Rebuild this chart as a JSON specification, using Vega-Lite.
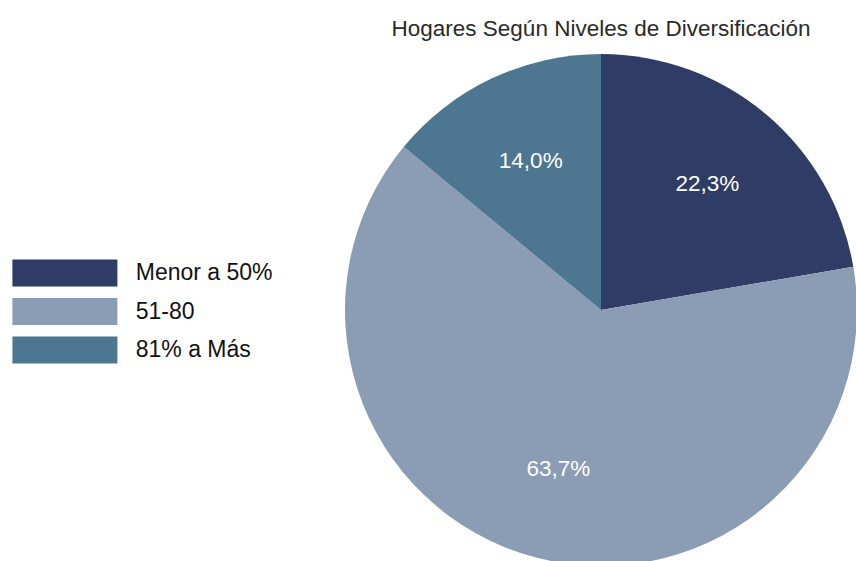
{
  "$schema": "https://vega.github.io/schema/vega-lite/v6.json",
  "width": 512,
  "height": 512,
  "autosize": "none",
  "padding": {"left": 345, "top": 54, "right": 0, "bottom": 0},
  "background": "white",
  "title": {"text": "Hogares Según Niveles de Diversificación", "font": "Liberation Sans", "fontSize": 22.5, "fontWeight": "normal", "color": "#2a2a2a", "anchor": "middle", "offset": 14},
  "data": {"values": [
    {"categoria": "Menor a 50%", "valor": 22.3, "etiqueta": "22,3%", "orden": 1},
    {"categoria": "51-80", "valor": 63.7, "etiqueta": "63,7%", "orden": 2},
    {"categoria": "81% a Más", "valor": 14.0, "etiqueta": "14,0%", "orden": 3}
  ]},
  "encoding": {
    "theta": {"field": "valor", "type": "quantitative", "stack": true},
    "order": {"field": "orden", "type": "quantitative"},
    "color": {
      "field": "categoria", "type": "nominal",
      "scale": {"domain": ["Menor a 50%", "51-80", "81% a Más"], "range": ["#2f3d66", "#8a9db5", "#4d7690"]},
      "sort": ["Menor a 50%", "51-80", "81% a Más"],
      "legend": {
        "title": null, "orient": "none", "legendX": -293.6, "legendY": 205.5,
        "symbolType": "M-4,-1.03L4,-1.03L4,1.03L-4,1.03Z",
        "symbolSize": 689, "symbolStrokeWidth": 0, "symbolOpacity": 1,
        "labelFont": "Liberation Sans", "labelFontSize": 23, "labelColor": "#111111",
        "labelOffset": 57.35, "rowPadding": 9.5, "labelLimit": 300
      }
    }
  },
  "layer": [
    {"mark": {"type": "arc", "outerRadius": 256, "stroke": null}},
    {"mark": {"type": "text", "radius": 165, "font": "Liberation Sans", "fontSize": 22.5, "color": "white"},
     "encoding": {"text": {"field": "etiqueta"}, "color": {"value": "white"}}}
  ]
}
